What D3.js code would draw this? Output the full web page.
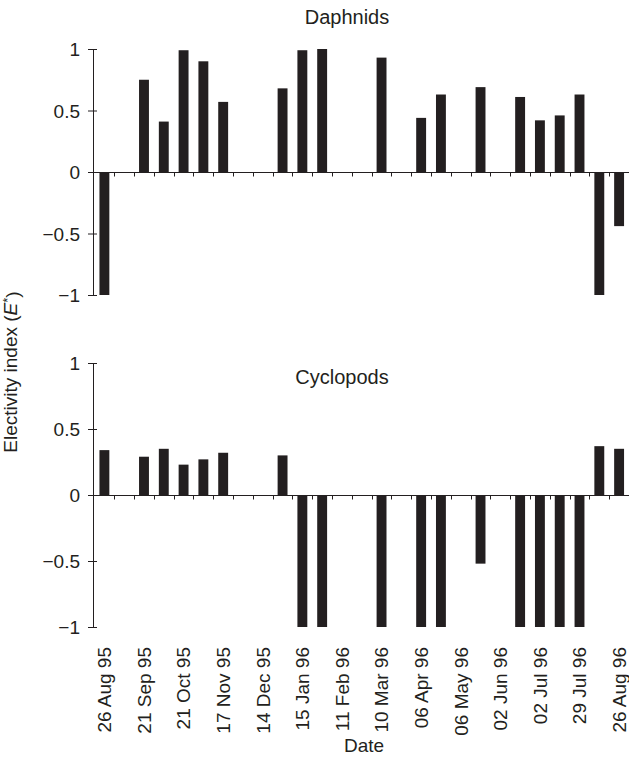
<!DOCTYPE html>
<html lang="en">
<head>
<meta charset="UTF-8">
<title>Electivity index</title>
<style>
	* { margin: 0; }
	body { width: 629px; height: 758px; background: #fff; overflow: hidden; }
	svg { display: block; font-family: "Liberation Sans", Arial, sans-serif; }
	text { fill: #231f20; }
</style>
</head>
<body>
<svg id="chart" width="629" height="758"></svg>

<script src="https://cdnjs.cloudflare.com/ajax/libs/d3/7.8.5/d3.min.js"></script>
<script>
	// sampling occasions, in order (one bar slot each)
	const samples = ["s01", "s02", "s03", "s04", "s05", "s06", "s07", "s08", "s09",
		"s10", "s11", "s12", "s13", "s14", "s15", "s16", "s17", "s18",
		"s19", "s20", "s21", "s22", "s23", "s24", "s25", "s26", "s27"];

	// E* values, null = no bar
	const daphnids = [-1, null, 0.75, 0.41, 0.99, 0.90, 0.57, null, null,
		0.68, 0.99, 1.0, null, null, 0.93, null, 0.44, 0.63,
		null, 0.69, null, 0.61, 0.42, 0.46, 0.63, -1, -0.44];

	const cyclopods = [0.34, null, 0.29, 0.35, 0.23, 0.27, 0.32, null, null,
		0.30, -1, -1, null, null, -1, null, -1, -1,
		null, -0.52, null, -1, -1, -1, -1, 0.37, 0.35];

	// date labels and the sample they sit under
	const dateLabels = ["26 Aug 95", "21 Sep 95", "21 Oct 95", "17 Nov 95", "14 Dec 95",
		"15 Jan 96", "11 Feb 96", "10 Mar 96", "06 Apr 96", "06 May 96",
		"02 Jun 96", "02 Jul 96", "29 Jul 96", "26 Aug 96"];
	const dateSamples = ["s01", "s03", "s05", "s07", "s09", "s11", "s13", "s15",
		"s17", "s19", "s21", "s23", "s25", "s27"];

	const yTicks = [-1, -0.5, 0, 0.5, 1];

	const ink = "#231f20";
	const svg = d3.select("#chart");

	const axisX = 93;
	const x = d3.scaleBand()
		.domain(samples)
		.range([94.5, 629])
		.paddingInner(0.5)
		.paddingOuter(0.25);

	const panels = [
		{ name: "Daphnids", values: daphnids, top: 49, bottom: 295, titleX: 347, titleY: 24 },
		{ name: "Cyclopods", values: cyclopods, top: 363, bottom: 627, titleX: 342, titleY: 384 }
	];

	const fmt = v => v === 0 ? "0" : (v < 0 ? "\u2212" : "") + String(Math.abs(v));

	panels.forEach(p => {
		const y = d3.scaleLinear().domain([-1, 1]).range([p.bottom, p.top]);
		const g = svg.append("g");

		// bars
		g.append("g")
			.selectAll("rect")
			.data(samples.map((s, i) => ({ s, v: p.values[i] })).filter(d => d.v !== null))
			.join("rect")
			.attr("x", d => x(d.s))
			.attr("width", x.bandwidth())
			.attr("y", d => y(Math.max(0, d.v)))
			.attr("height", d => Math.abs(y(d.v) - y(0)))
			.attr("fill", ink);

		// y axis
		const yAxis = g.append("g")
			.attr("transform", `translate(${axisX},0)`)
			.call(d3.axisLeft(y).tickValues(yTicks).tickFormat(fmt).tickSize(5).tickPadding(8));
		yAxis.select(".domain").attr("stroke", ink).attr("d", `M0.5,${p.top}V${p.bottom}`);
		yAxis.selectAll(".tick line").attr("stroke", ink).attr("x1", -5).attr("x2", 4);
		yAxis.selectAll(".tick text")
			.attr("fill", ink)
			.style("font-size", "19px")
			.attr("dy", "0.36em");

		// zero line with ticks on the slot edges
		const zero = g.append("g").attr("transform", `translate(0,${Math.round(y(0)) + 0.5})`);
		zero.append("line")
			.attr("x1", axisX).attr("x2", 629)
			.attr("stroke", ink);
		zero.selectAll("line.edge")
			.data(samples.slice(1))
			.join("line")
			.attr("class", "edge")
			.attr("x1", d => Math.round(x(d) - x.step() * x.paddingInner() / 2) + 0.5)
			.attr("x2", d => Math.round(x(d) - x.step() * x.paddingInner() / 2) + 0.5)
			.attr("y1", 0).attr("y2", 4)
			.attr("stroke", ink);

		g.append("text")
			.attr("x", p.titleX)
			.attr("y", p.titleY)
			.attr("text-anchor", "middle")
			.style("font-size", "20px")
			.text(p.name);
	});

	// date labels, rotated
	svg.append("g")
		.selectAll("text")
		.data(dateLabels)
		.join("text")
		.attr("transform", (d, i) => `translate(${x(dateSamples[i]) + x.bandwidth() / 2},647) rotate(-90)`)
		.attr("text-anchor", "end")
		.attr("dy", "0.36em")
		.style("font-size", "19px")
		.text(d => d);

	svg.append("text")
		.attr("x", 364)
		.attr("y", 752)
		.attr("text-anchor", "middle")
		.style("font-size", "19px")
		.text("Date");

	const yTitle = svg.append("text")
		.attr("transform", "translate(17,372) rotate(-90)")
		.attr("text-anchor", "middle")
		.style("font-size", "19px");
	yTitle.append("tspan").text("Electivity index (");
	yTitle.append("tspan").style("font-style", "italic").text("E");
	yTitle.append("tspan").attr("dy", "-0.4em").style("font-size", "13px").text("*");
	yTitle.append("tspan").attr("dy", "0.4em").text(")");
</script>
</body>
</html>
